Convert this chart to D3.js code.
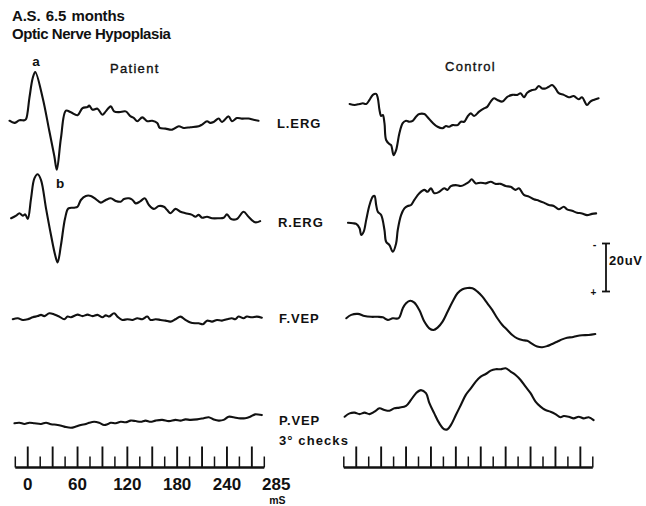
<!DOCTYPE html>
<html><head><meta charset="utf-8">
<script src="https://cdn.jsdelivr.net/npm/d3@7"></script>
<style>
html,body{margin:0;padding:0;background:#fff;}
svg{display:block;}
text{font-family:"Liberation Sans",Arial,Helvetica,sans-serif;fill:#111;}
</style>
</head><body>
<svg id="chart" width="646" height="506"></svg>
<script>
// ---- data: [time ms, amplitude µV] (negative drawn upward) ----
const patientLERG = [[-22,0.1],[-16,1.0],[-10,-0.1],[-4,-0.1],[-2,-0.6],[2,-9.4],[6,-17.7],[9,-20.2],[18,-9.4],[26,4.4],[32,14.8],[35,20.5],[40,7.3],[46,-4.1],[52,-3.4],[60,-2.2],[66,-5.2],[72,-5.6],[74,-6.2],[78,-4.5],[84,-4.9],[90,-2.4],[94,-3.8],[100,-5.9],[104,-3.8],[110,-3.5],[118,-3.8],[124,-1.7],[128,-1.0],[132,0.3],[138,-1.3],[144,0.3],[150,0.1],[156,1.0],[159,3.1],[166,3.4],[174,3.8],[182,2.4],[188,3.1],[196,2.8],[206,2.4],[210,1.7],[216,0.3],[220,1.0],[224,0.6],[230,-0.8],[234,0.6],[242,-1.7],[246,0.3],[252,-1.0],[258,-0.8],[266,-0.8],[272,-0.3],[278,0.1]];
const patientRERG = [[-20,0.1],[-14,-1.0],[-10,-2.0],[-6,-1.0],[-3,-1.5],[0,0.4],[4,-8.2],[8,-16.5],[12,-18.2],[16,-15.8],[22,-4.0],[28,7.1],[33,15.4],[36,18.5],[40,11.3],[45,0.1],[49,-4.0],[56,-4.3],[60,-4.7],[64,-7.5],[70,-9.2],[76,-9.2],[82,-7.9],[88,-6.4],[94,-7.5],[100,-8.2],[106,-7.1],[112,-6.8],[116,-7.9],[122,-8.2],[126,-7.6],[130,-6.1],[135,-6.8],[141,-8.2],[146,-5.4],[152,-3.8],[158,-5.0],[164,-4.7],[168,-3.3],[172,-2.0],[178,-3.8],[184,-2.6],[190,-2.0],[198,-1.3],[202,-0.5],[206,-1.3],[210,-0.1],[216,-0.5],[222,0.1],[230,0.1],[236,-0.1],[240,-1.5],[245,0.4],[252,0.4],[260,-2.6],[266,-0.5],[274,1.8],[280,1.3]];
const patientFVEP = [[-18,0.3],[-12,-0.1],[-6,0.6],[0,0.3],[6,-0.5],[12,-1.0],[16,-1.5],[20,-1.0],[26,-2.2],[32,-1.7],[38,-0.8],[44,0.3],[48,-0.8],[52,-0.5],[60,-1.6],[66,-1.0],[72,-1.6],[78,-1.0],[84,-1.5],[90,-0.5],[94,-1.3],[98,-0.8],[104,-2.2],[108,-0.8],[114,0.6],[120,0.3],[126,0.6],[132,-0.1],[138,0.3],[144,-0.8],[148,0.6],[154,0.3],[160,0.6],[166,0.9],[172,1.3],[178,0.3],[184,-0.8],[190,0.6],[196,1.7],[202,2.0],[206,2.0],[211,2.4],[216,0.9],[222,1.3],[228,0.6],[234,0.9],[240,0.3],[246,-0.1],[250,0.3],[254,-0.8],[260,-0.1],[264,-0.8],[270,-0.5],[276,-0.8],[282,-0.3]];
const patientPVEP = [[-16,0.1],[-10,-0.1],[-4,0.4],[2,-0.1],[8,0.1],[16,0.4],[22,-0.1],[28,0.5],[36,0.8],[44,1.5],[52,2.0],[58,1.5],[64,0.8],[70,0.4],[74,-0.1],[80,-0.5],[86,-0.1],[92,0.8],[96,0.5],[100,-0.1],[106,0.1],[112,-0.5],[118,-0.3],[124,-1.0],[130,-0.8],[136,-0.5],[142,-1.0],[148,-0.5],[154,-1.0],[162,-1.3],[170,-0.8],[178,-1.3],[184,-1.0],[190,-1.5],[196,-1.3],[204,-1.5],[212,-2.0],[218,-2.4],[224,-1.5],[230,-1.0],[236,-1.3],[242,-2.6],[248,-2.4],[254,-2.0],[262,-2.0],[268,-2.6],[274,-3.6],[282,-3.3]];
const controlLERG = [[-8,0],[-2,0.4],[4,0],[8,-0.3],[12,0],[16,-1.7],[20,-3.8],[24,-4.2],[26,-2.4],[28,2.5],[30,5.0],[32,4.6],[34,8.0],[36,15.0],[40,16.7],[42,17.1],[45,21.3],[48,19.2],[52,12.2],[56,8.0],[60,7.0],[64,7.4],[68,7.0],[72,5.3],[76,4.2],[82,4.2],[86,5.5],[92,7.8],[98,9.5],[104,10.1],[108,9.2],[112,9.5],[116,8.8],[122,8.8],[126,7.4],[130,7.4],[134,5.3],[138,3.9],[142,5.0],[148,3.2],[154,1.8],[158,1.1],[162,-1.0],[166,-2.4],[170,-1.7],[176,-1.0],[182,-3.0],[188,-3.8],[194,-3.8],[198,-4.5],[202,-2.8],[206,-4.7],[212,-5.8],[216,-6.1],[220,-7.5],[224,-6.5],[228,-6.5],[232,-7.2],[236,-7.9],[240,-6.5],[244,-4.5],[250,-3.8],[256,-2.8],[262,-3.3],[268,-2.0],[272,-2.8],[278,0.4],[282,-1.0],[286,-1.7],[292,-2.4]];
const controlRERG = [[-10,-0.1],[-4,0.1],[0,0.4],[4,2.2],[6,5.0],[9,3.6],[12,-1.3],[16,-7.5],[20,-11.0],[22,-11.3],[24,-7.5],[26,-4.7],[30,-3.3],[34,2.9],[36,7.8],[40,9.2],[44,12.0],[48,8.5],[50,2.9],[54,-3.3],[58,-6.1],[62,-7.1],[66,-7.5],[70,-9.6],[76,-12.4],[82,-13.8],[86,-13.0],[90,-14.5],[94,-12.4],[100,-13.0],[106,-14.5],[110,-13.8],[114,-15.4],[120,-15.8],[126,-15.4],[132,-16.3],[136,-17.2],[139,-18.2],[144,-16.5],[150,-16.8],[156,-16.5],[162,-17.2],[168,-16.3],[174,-16.3],[180,-15.4],[186,-15.1],[192,-13.8],[196,-14.5],[202,-11.7],[208,-11.0],[214,-9.9],[220,-9.3],[226,-8.5],[232,-7.5],[238,-7.1],[244,-5.7],[250,-6.8],[254,-5.7],[260,-5.1],[266,-4.3],[272,-4.0],[278,-3.3],[284,-3.8],[289,-4.0]];
const controlFVEP = [[-12,0.1],[-6,-1.3],[2,-1.7],[10,-0.8],[18,-0.5],[26,-0.5],[32,-0.3],[38,0.8],[44,0.1],[51,0.1],[56,-4.0],[60,-6.1],[65,-7.2],[70,-6.4],[76,-3.3],[82,1.5],[88,4.3],[93,5.0],[98,4.0],[104,1.5],[110,-2.6],[116,-6.8],[122,-10.3],[128,-12.0],[134,-12.5],[140,-12.4],[146,-11.0],[152,-8.9],[158,-6.1],[164,-3.3],[170,0.1],[176,2.9],[182,5.0],[188,7.1],[194,8.5],[200,9.2],[206,9.5],[212,10.8],[218,11.9],[224,12.2],[230,11.7],[236,10.8],[242,9.9],[248,8.9],[254,8.2],[260,8.0],[266,7.5],[272,7.2],[280,7.1],[288,6.7]];
const controlPVEP = [[-14,0.3],[-8,-1.1],[-2,-1.4],[4,-0.8],[10,-1.4],[16,-0.8],[22,-1.8],[28,-3.2],[34,-2.5],[40,-2.2],[46,-3.2],[52,-3.5],[60,-4.2],[66,-6.7],[72,-9.5],[78,-10.8],[84,-9.5],[88,-5.5],[94,-1.1],[100,3.0],[106,5.5],[110,5.5],[114,3.8],[120,-0.4],[126,-4.6],[132,-8.8],[138,-11.5],[144,-14.3],[150,-16.4],[156,-17.5],[162,-18.9],[168,-19.5],[174,-19.5],[180,-19.9],[186,-18.5],[192,-17.1],[198,-15.0],[204,-12.2],[210,-9.5],[216,-6.0],[222,-3.9],[228,-2.5],[234,-1.8],[240,-0.8],[246,0.5],[250,0],[256,0.3],[262,1.0],[268,0.3],[274,1.0],[280,0.5],[286,1.7]];

const traceLabels = ["L.ERG", "R.ERG", "F.VEP", "P.VEP"];
const rulerTicks = [-15,0,15,30,45,60,75,90,105,120,135,150,165,180,195,210,225,240,255,270,285];
const tallTicks = [0,30,60,90,120,150,180,210,240,270];
const tickLabels = [0,60,120,180,240,285];
const timeUnit = "mS";
const scaleBarUV = 20;

// ---- layout ----
const svg = d3.select("#chart");
svg.append("rect").attr("width",646).attr("height",506).attr("fill","#fff");

const xPatient = d3.scaleLinear().domain([-15,285]).range([15.3,264.3]);
const xControl = d3.scaleLinear().domain([-15,285]).range([343.8,592.8]);
const uv = d3.scaleLinear().domain([0,20]).range([0,48]);

const patientBase = [120.5,218,318.5,423];
const controlBase = [104,223,318,416];

function drawTrace(data, x, base){
  const line = d3.line()
    .x(d => x(d[0]))
    .y(d => base + uv(d[1]))
    .curve(d3.curveCatmullRom.alpha(0.5));
  svg.append("path").datum(data).attr("d", line)
    .attr("fill","none").attr("stroke","#111").attr("stroke-width",2.1)
    .attr("stroke-linejoin","round").attr("stroke-linecap","round");
}
[patientLERG, patientRERG, patientFVEP, patientPVEP].forEach((d,i)=>drawTrace(d, xPatient, patientBase[i]));
[controlLERG, controlRERG, controlFVEP, controlPVEP].forEach((d,i)=>drawTrace(d, xControl, controlBase[i]));

// rulers
const rulerY = 467.5;
function drawRuler(x){
  const g = svg.append("g");
  g.append("line").attr("x1",x(-15)).attr("x2",x(285)).attr("y1",rulerY).attr("y2",rulerY)
    .attr("stroke","#111").attr("stroke-width",2.4);
  g.selectAll("line.tk").data(rulerTicks).join("line").attr("class","tk")
    .attr("x1",d=>x(d)).attr("x2",d=>x(d))
    .attr("y1",rulerY).attr("y2",d=>tallTicks.includes(d) ? rulerY-21 : rulerY-11)
    .attr("stroke","#111").attr("stroke-width",d=>tallTicks.includes(d) ? 1.9 : 1.5);
}
drawRuler(xPatient);
drawRuler(xControl);

// tick labels
const lastIdx = tickLabels.length - 1;
svg.selectAll("text.tl").data(tickLabels).join("text").attr("class","tl")
  .attr("x", (d,i) => xPatient(d) + (i === lastIdx ? 12 : 0))
  .attr("y", 490).attr("text-anchor","middle")
  .style("font-size","17px").style("font-weight","bold").text(d=>d);
svg.append("text").attr("x", xPatient(285)+13).attr("y", 503.5).attr("text-anchor","middle")
  .style("font-size","10.5px").style("font-weight","bold").text(timeUnit);

// trace labels
const labelStyle = sel => sel.style("font-size","13px").style("letter-spacing","0.9px").style("font-weight","bold");
const headStyle = sel => sel.style("font-size","13px").style("letter-spacing","1.3px")
  .style("stroke","#111").style("stroke-width","0.35px");
const labelX = [277,278,279,279];
const labelY = [128.3,227.3,323.3,425];
traceLabels.forEach((t,i)=>{
  svg.append("text").attr("x",labelX[i]).attr("y",labelY[i]).call(labelStyle).text(t);
});
svg.append("text").attr("x",279).attr("y",445).call(labelStyle).style("letter-spacing","1.1px").text("3° checks");

// titles
svg.append("text").attr("x",12).attr("y",20.7).style("font-size","15px").style("font-weight","bold")
  .style("letter-spacing","-0.2px").style("word-spacing","1.5px").text("A.S. 6.5 months");
svg.append("text").attr("x",12).attr("y",39.3).style("font-size","15px").style("font-weight","bold")
  .style("letter-spacing","-0.45px").text("Optic Nerve Hypoplasia");
svg.append("text").attr("x",110).attr("y",72.7).call(headStyle).text("Patient");
svg.append("text").attr("x",445).attr("y",70.5).call(headStyle).text("Control");
svg.append("text").attr("x",36).attr("y",66).attr("text-anchor","middle").style("font-size","13.5px").style("font-weight","bold").text("a");
svg.append("text").attr("x",60).attr("y",188).attr("text-anchor","middle").style("font-size","13.5px").style("font-weight","bold").text("b");

// scale bar
const barX = 606, barTop = 243.5;
const barBottom = barTop + uv(scaleBarUV);
svg.append("line").attr("x1",barX).attr("x2",barX).attr("y1",barTop).attr("y2",barBottom).attr("stroke","#111").attr("stroke-width",1.8);
[barTop, barBottom].forEach(y=>svg.append("line").attr("x1",barX-4).attr("x2",barX+4).attr("y1",y).attr("y2",y).attr("stroke","#111").attr("stroke-width",1.8));
svg.append("text").attr("x",609).attr("y",265).call(labelStyle).style("letter-spacing","0.6px").text(scaleBarUV + "uV");
svg.append("text").attr("x",594.5).attr("y",248).attr("text-anchor","middle").style("font-size","11px").style("font-weight","bold").text("-");
svg.append("text").attr("x",593.5).attr("y",296).attr("text-anchor","middle").style("font-size","10px").style("font-weight","bold").text("+");
</script>
</body></html>
